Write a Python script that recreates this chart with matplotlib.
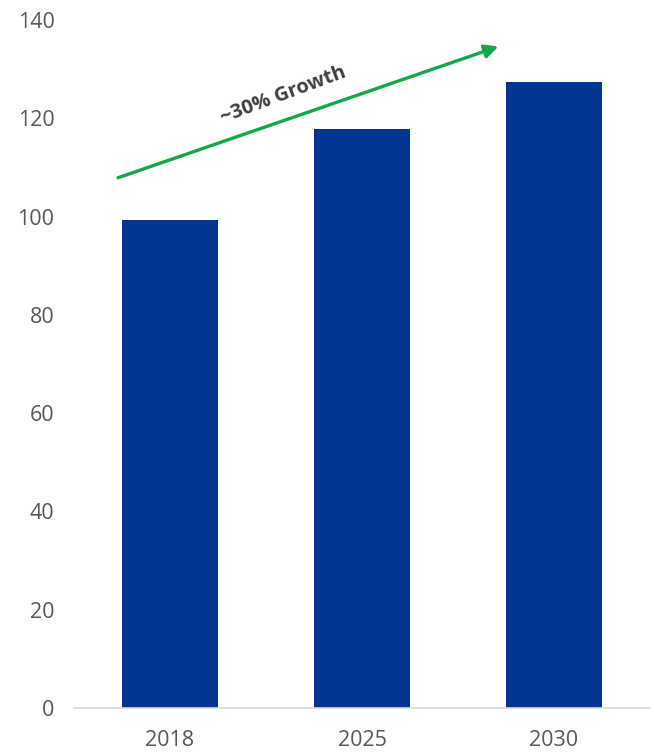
import matplotlib.pyplot as plt

years = ["2018", "2025", "2030"]
values = [99.3, 117.8, 127.4]
growth_label = "~30% Growth"

plt.rcParams['font.family'] = ['Open Sans', 'DejaVu Sans']

fig = plt.figure(figsize=(6.54, 7.54), dpi=100)
ax = fig.add_axes([0.113, 0.061, 0.881, 0.9125])

x = range(len(years))
ax.bar(x, values, width=0.5, color='#003594', zorder=2)

ax.set_xlim(-0.5, 2.5)
ax.set_ylim(0, 140)
ax.set_yticks(range(0, 141, 20))
ax.set_xticks(list(x))
ax.set_xticklabels(years)

for side in ['top', 'right', 'left']:
    ax.spines[side].set_visible(False)
ax.spines['bottom'].set_color('#d9d9d9')
ax.spines['bottom'].set_linewidth(1.2)
ax.tick_params(axis='both', length=0, colors='#595959', labelsize=15.5)
ax.tick_params(axis='y', pad=14)
ax.tick_params(axis='x', pad=16)

# growth arrow
ax.annotate('', xy=(1.71, 134.6), xytext=(-0.27, 107.9),
            arrowprops=dict(arrowstyle='-|>', color='#14a64a', lw=2.4,
                            mutation_scale=20, shrinkA=0, shrinkB=0))
ax.text(0.59, 124.8, growth_label, rotation=20.5, ha='center', va='center',
        fontsize=14.5, fontweight='bold', color='#404040')

fig.savefig('out.png', dpi=100)
